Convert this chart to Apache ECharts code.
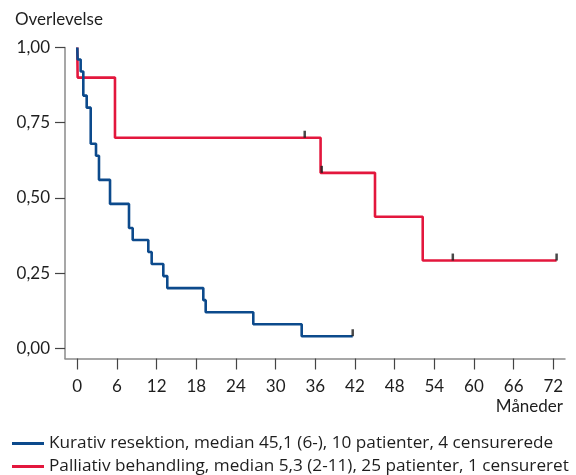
<!DOCTYPE html>
<html>
<head>
<meta charset="utf-8">
<script src="https://cdn.jsdelivr.net/npm/echarts@6/dist/echarts.min.js"></script>
<style>html,body{margin:0;padding:0;background:#fff}#c{width:576px;height:475px}</style>
</head>
<body>
<div id="c"></div>
<script>
// Kurativ (blue) Kaplan-Meier steps
var blueTimes = [0, 0.05, 0.51, 0.91, 1.42, 2.03, 2.83, 3.28, 4.95, 7.82, 8.38, 10.74, 11.25, 13.01, 13.61, 19.06, 19.42, 26.62, 33.94, 41.66];
var blueSurv  = [1.00, 0.96, 0.92, 0.84, 0.80, 0.68, 0.64, 0.56, 0.48, 0.40, 0.36, 0.32, 0.28, 0.24, 0.20, 0.16, 0.12, 0.08, 0.04, 0.04];
var blueCensorTimes = [41.66];
var blueCensorSurv  = [0.04];
// Palliativ (red) Kaplan-Meier steps
var redTimes = [0, 0.05, 5.7, 36.8, 45.03, 52.25, 72.5];
var redSurv  = [1.00, 0.90, 0.70, 0.5833, 0.4375, 0.2917, 0.2917];
var redCensorTimes = [34.4, 36.97, 56.8, 72.5];
var redCensorSurv  = [0.70, 0.5833, 0.2917, 0.2917];
// Ticks
var xTicks = [0, 6, 12, 18, 24, 30, 36, 42, 48, 54, 60, 66, 72];
var yTicks = [0, 0.25, 0.5, 0.75, 1.0];
var seriesNames = ['Kurativ resektion, median 45,1 (6-), 10 patienter, 4 censurerede',
                   'Palliativ behandling, median 5,3 (2-11), 25 patienter, 1 censureret'];
var yTitle = 'Overlevelse';
var xTitle = 'Måneder';

var BLUE = '#0c4a8c', RED = '#e3173d', AXIS = '#8a8a8a', TXT = '#1e1e1e';
var FONT = 'Lato';
var LFONT = 'Open Sans';

function pairs(a, b) { return a.map(function (t, i) { return [t, b[i]]; }); }

var chart = echarts.init(document.getElementById('c'), null, {renderer: 'canvas'});
var censorStyle = {
  type: 'scatter', symbol: 'rect', symbolSize: [2.5, 7], symbolOffset: [0, -3.5],
  itemStyle: {color: '#1a1a1a'}, silent: true, z: 5
};
function legendFor(name, top) {
  return {
    orient: 'horizontal', left: 12, top: top, padding: 0, itemWidth: 32, itemHeight: 3, itemGap: 6,
    icon: 'rect', selectedMode: false,
    textStyle: {fontSize: 17.2, lineHeight: 18, color: TXT, fontFamily: LFONT},
    data: [name]
  };
}
chart.setOption({
  animation: false,
  textStyle: {fontFamily: FONT},
  grid: {left: 65, top: 47.5, width: 500, height: 311, containLabel: false},
  xAxis: {
    type: 'value', min: -1.86, max: 73.77,
    axisLine: {show: true, onZero: false, lineStyle: {color: AXIS, width: 1.5}},
    axisTick: {show: true, customValues: xTicks, length: 11, lineStyle: {color: '#444', width: 1.2}},
    axisLabel: {customValues: xTicks, margin: 20, color: TXT, fontSize: 17, fontFamily: FONT},
    splitLine: {show: false}
  },
  yAxis: {
    type: 'value', min: -0.034, max: 1.0,
    axisLine: {show: true, onZero: false, lineStyle: {color: AXIS, width: 1.5}},
    axisTick: {show: true, customValues: yTicks, length: 10, lineStyle: {color: '#444', width: 1.2}},
    axisLabel: {customValues: yTicks, margin: 15, color: TXT, fontSize: 17, fontFamily: FONT,
      formatter: function (v) { return v.toFixed(2).replace('.', ','); }},
    splitLine: {show: false}
  },
  legend: [legendFor(seriesNames[0], 434.5), legendFor(seriesNames[1], 457.5)],
  graphic: [
    {type: 'text', left: 15, top: 11, style: {text: yTitle, fontSize: 17, fontFamily: FONT, fill: TXT}},
    {type: 'text', right: 13, top: 398, style: {text: xTitle, fontSize: 17, fontFamily: FONT, fill: TXT}}
  ],
  series: [
    {name: seriesNames[0], type: 'line', step: 'end', data: pairs(blueTimes, blueSurv),
     showSymbol: false, symbol: 'none', lineStyle: {color: BLUE, width: 2.6}, itemStyle: {color: BLUE}, z: 3},
    {name: seriesNames[1], type: 'line', step: 'end', data: pairs(redTimes, redSurv),
     showSymbol: false, symbol: 'none', lineStyle: {color: RED, width: 2.6}, itemStyle: {color: RED}, z: 2},
    Object.assign({name: 'bc', data: pairs(blueCensorTimes, blueCensorSurv)}, censorStyle),
    Object.assign({name: 'rc', data: pairs(redCensorTimes, redCensorSurv)}, censorStyle)
  ]
});
</script>
</body>
</html>
